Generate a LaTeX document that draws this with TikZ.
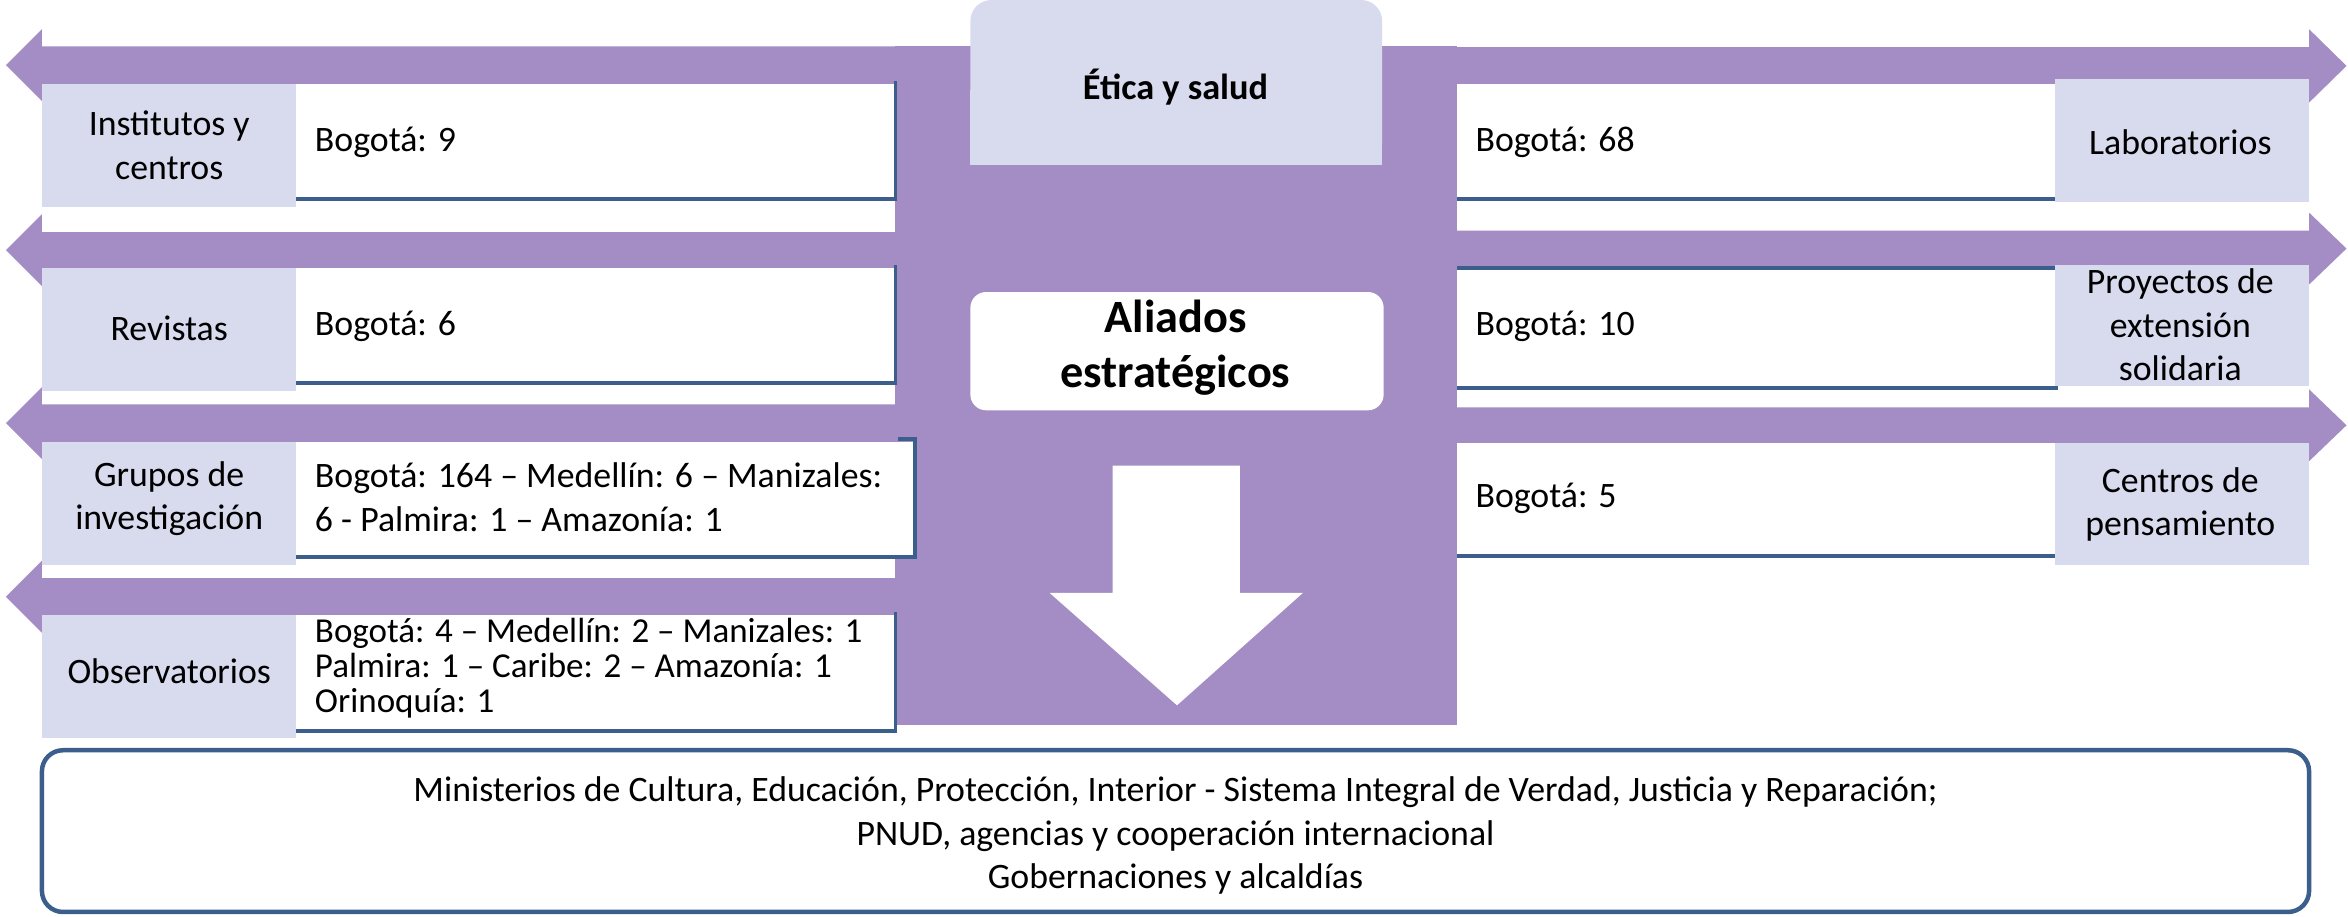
\documentclass[tikz,border=0pt]{standalone}
\usepackage{fontspec}
\setmainfont{Carlito}
\usetikzlibrary{calc}

\definecolor{lila}{RGB}{164,140,196}
\definecolor{lavanda}{RGB}{216,218,237}
\definecolor{azul}{RGB}{60,94,140}

\tikzset{
  etiqueta/.style={align=center, inner sep=0pt, font=\fontsize{13.6}{16.5}\selectfont},
  dato/.style={anchor=west, align=left, inner sep=0pt, font=\fontsize{13.6}{16.5}\selectfont},
  borde/.style={azul, line width=1.5pt},
}

\begin{document}
\begin{tikzpicture}[x=0.02cm, y=-0.02cm]
    \useasboundingbox (0,0) rectangle (1568,612);

    % flechas hacia la izquierda
    \fill[lila] (598,31) -- (28,31) -- (28,19.5) -- (4,43.5) -- (28,67.5) -- (28,56) -- (598,56) -- cycle;
    \fill[lila] (598,155) -- (28,155) -- (28,143) -- (4,167) -- (28,191) -- (28,179) -- (598,179) -- cycle;
    \fill[lila] (598,270) -- (28,270) -- (28,258.5) -- (4,282.5) -- (28,306.5) -- (28,295) -- (598,295) -- cycle;
    \fill[lila] (598,386) -- (28,386) -- (28,374.5) -- (4,398.5) -- (28,422.5) -- (28,411) -- (598,411) -- cycle;

    % flechas hacia la derecha
    \fill[lila] (973,31.5) -- (1542,31.5) -- (1542,19.5) -- (1567,44) -- (1542,68.5) -- (1542,56) -- (973,56) -- cycle;
    \fill[lila] (973,154) -- (1542,154) -- (1542,142) -- (1567,166) -- (1542,190) -- (1542,178) -- (973,178) -- cycle;
    \fill[lila] (973,272) -- (1542,272) -- (1542,260) -- (1567,284) -- (1542,308) -- (1542,296) -- (973,296) -- cycle;

    % bloque central
    \fill[lila] (598,31) rectangle (973,484);
    \fill[lavanda, rounded corners=8pt] (648,0) rectangle (923,110);
    \fill[lavanda] (648,60) rectangle (923,110);
    \node[font=\fontsize{13.8}{16}\selectfont\bfseries] (etica) at (785,58) {Ética y salud};

    \fill[white, rounded corners=6pt] (648,195) rectangle (924,274);
    \node[align=center, font=\fontsize{17.6}{21}\selectfont\bfseries] (aliados) at (785,232) {Aliados\\estratégicos};

    \fill[white] (743,311) -- (828,311) -- (828,396) -- (870,396) -- (786,471) -- (701,396) -- (743,396) -- cycle;

    % cajas de la izquierda
    \fill[lavanda] (28,56) rectangle (198,138);
    \fill[lavanda] (28,179) rectangle (198,261);
    \fill[lavanda] (28,295) rectangle (198,377);
    \fill[lavanda] (28,411) rectangle (198,493);

    \fill[white] (198,56) rectangle (598,133);
    \draw[borde] (598,54) -- (598,133) -- (198,133);
    \fill[white] (198,179) rectangle (598,256);
    \draw[borde] (598,177) -- (598,256) -- (198,256);
    \fill[white] (198,295) rectangle (611,372);
    \draw[borde] (600,293) -- (611,293) -- (611,372) -- (198,372);
    \fill[white] (198,411) rectangle (598,488);
    \draw[borde] (598,409) -- (598,488) -- (198,488);

    \node[etiqueta] (inst) at (113,97) {Institutos y\\centros};
    \node[etiqueta] (revistas) at (113,219) {Revistas};
    \node[etiqueta] (grupos) at (113,333) {Grupos de\\investigación};
    \node[etiqueta] (obs) at (113,448) {Observatorios};

    \node[dato] (inst-dato) at (210,95) {Bogotá: 9};
    \node[dato] (revistas-dato) at (210,218) {Bogotá: 6};
    \node[dato] (grupos-dato) at (210,332) {Bogotá: 164 – Medellín: 6 – Manizales:\\6 - Palmira: 1 – Amazonía: 1};
    \node[dato, font=\fontsize{13.3}{13.3}\selectfont] (obs-dato) at (210,446) {Bogotá: 4 – Medellín: 2 – Manizales: 1\\Palmira: 1 – Caribe: 2 – Amazonía: 1\\Orinoquía: 1};

    % cajas de la derecha
    \fill[white] (973,56) rectangle (1372,133);
    \draw[borde] (973,133) -- (1372,133);
    \fill[white] (973,178) rectangle (1372,259);
    \draw[borde] (973,179) -- (1372,179);
    \draw[borde] (973,259) -- (1374,259);
    \fill[white] (973,296) rectangle (1372,371);
    \draw[borde] (973,371) -- (1372,371);

    \fill[lavanda] (1372,53) rectangle (1542,135);
    \fill[lavanda] (1372,177) rectangle (1542,258);
    \fill[lavanda] (1372,296) rectangle (1542,377);

    \node[etiqueta] (lab) at (1456,95) {Laboratorios};
    \node[etiqueta] (proy) at (1456,217) {Proyectos de\\extensión\\solidaria};
    \node[etiqueta] (centros) at (1456,337) {Centros de\\pensamiento};

    \node[dato] (lab-dato) at (985,95) {Bogotá: 68};
    \node[dato] (proy-dato) at (985,218) {Bogotá: 10};
    \node[dato] (centros-dato) at (985,333) {Bogotá: 5};

    % aliados externos
    \draw[borde, line width=1.7pt, rounded corners=8pt, fill=white] (28,501) rectangle (1542,609);
    \node[etiqueta] (externos) at (785,558) {Ministerios de Cultura, Educación, Protección, Interior - Sistema Integral de Verdad, Justicia y Reparación;\\PNUD, agencias y cooperación internacional\\Gobernaciones y alcaldías};
\end{tikzpicture}
\end{document}
